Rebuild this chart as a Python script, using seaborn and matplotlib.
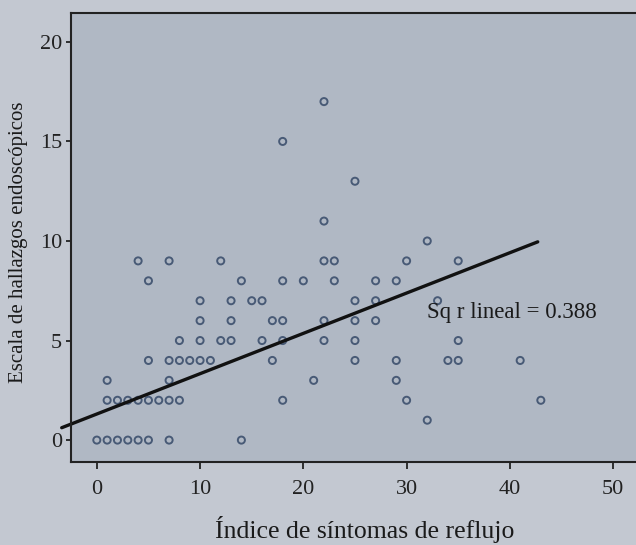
import numpy as np
import pandas as pd
import seaborn as sns
import matplotlib.pyplot as plt

# symptom index (x) and endoscopic score (y)
reflujo = [0, 1, 2, 3, 4, 5, 7, 14,
           32,
           1, 2, 3, 4, 5, 6, 7, 8, 18, 30, 43,
           1, 7, 21, 29,
           5, 7, 8, 9, 10, 11, 17, 25, 29, 34, 35, 41,
           8, 10, 12, 13, 16, 18, 22, 25, 35,
           10, 13, 17, 18, 22, 25, 27,
           10, 13, 15, 16, 25, 27, 33,
           5, 14, 18, 20, 23, 27, 29,
           4, 7, 12, 22, 23, 30, 35,
           32, 22, 25, 18, 22]
hallazgos = [0] * 8 + [1] + [2] * 11 + [3] * 4 + [4] * 12 + [5] * 9 + \
            [6] * 7 + [7] * 7 + [8] * 7 + [9] * 7 + [10, 11, 13, 15, 17]

# fit line as printed (points overlap, so refitting the visible ones is off)
fit_intercept = 1.31
fit_slope = 0.2025
fit_range = [-3.4, 42.7]

x_ticks = [0, 10, 20, 30, 40, 50]
y_ticks = [0, 5, 10, 15, 20]
r2_label = "Sq r lineal = 0.388"

df = pd.DataFrame({"x": reflujo, "y": hallazgos})

sns.set_style("ticks")
plt.rcParams["font.family"] = ["Liberation Serif", "DejaVu Serif"]

fig = plt.figure(figsize=(6.36, 5.45), dpi=100, facecolor="#c3c8d1")
ax = fig.add_axes([71 / 636, 83 / 545, 570 / 636, 449 / 545])
ax.set_facecolor("#b0b8c4")

sns.scatterplot(data=df, x="x", y="y", ax=ax, s=26, marker="o",
                facecolor="none", edgecolor="#485a76", linewidth=1.4)

xs = np.array(fit_range)
ax.plot(xs, fit_intercept + fit_slope * xs, color="#111111", lw=2.4, clip_on=False)

ax.text(32, 6.4, r2_label, fontsize=16.5, va="center", color="#1a1a1a")

ax.set_xlim(-2.5, 52.7)
ax.set_ylim(-1.1, 21.45)
ax.set_xticks(x_ticks)
ax.set_yticks(y_ticks)
ax.tick_params(labelsize=16, width=1.3, colors="#222222")
ax.tick_params(axis="x", length=5, pad=8)
ax.tick_params(axis="y", length=3.5, pad=3)
ax.set_xlabel("Índice de síntomas de reflujo", fontsize=18.5, labelpad=12, color="#1a1a1a")
ax.xaxis.label.set_x(0.515)
ax.set_ylabel("Escala de hallazgos endoscópicos", fontsize=15, color="#1a1a1a")
ax.yaxis.set_label_coords(-0.075, 0.49)
for s in ax.spines.values():
    s.set_linewidth(1.5)
    s.set_color("#222222")

fig.savefig("out.png", dpi=100, facecolor=fig.get_facecolor())
